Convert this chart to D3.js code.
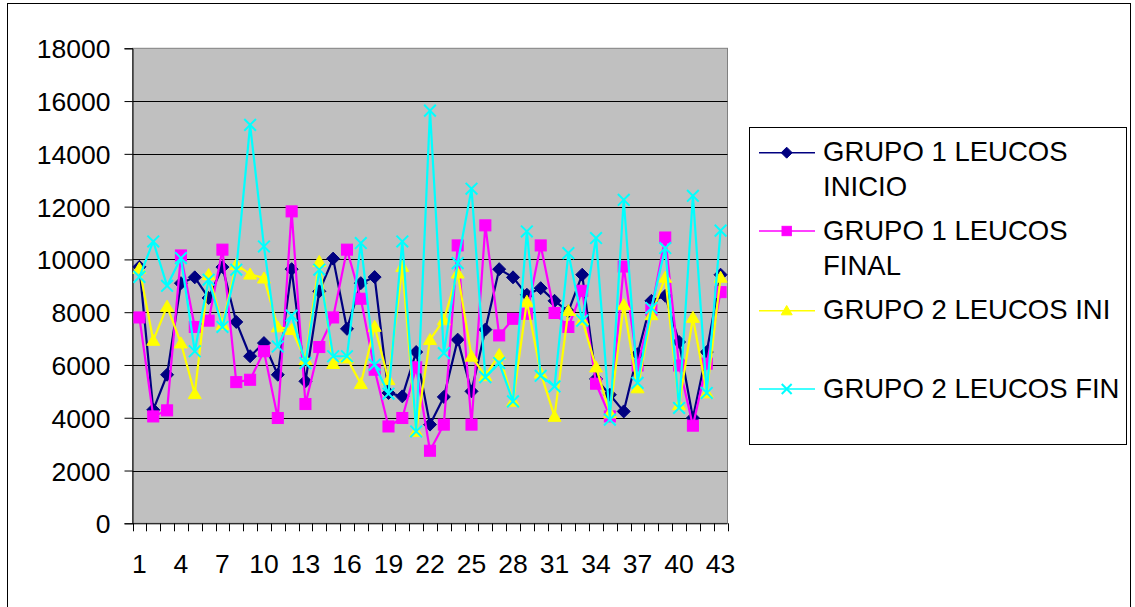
<!DOCTYPE html>
<html>
<head>
<meta charset="utf-8">
<script src="https://cdn.jsdelivr.net/npm/d3@7"></script>
<style>
  html, body { margin: 0; padding: 0; background: #fff; }
  svg { display: block; font-family: "Liberation Sans", Arial, sans-serif; }
</style>
</head>
<body>
<svg id="chart" width="1135" height="607"></svg>
<script>
// Leukocyte counts per patient, groups 1 and 2, start and end
const patients = d3.range(1, 44);
const g1Inicio = [9720, 4300, 5630, 9100, 9320, 8540, 9710, 7630, 6330, 6830, 5630, 9630, 5380, 8790, 10030,
  7370, 9100, 9330, 4940, 4810, 6490, 3740, 4790, 6960, 5000, 7340, 9630, 9320, 8660, 8910,
  8430, 8030, 9420, 5470, 4870, 4240, 6410, 8430, 8620, 6870, 3990, 6490, 9420];
const g1Final = [7800, 4050, 4280, 10150, 7440, 7680, 10370, 5350, 5440, 6520, 3990, 11820, 4520, 6680, 7800,
  10370, 8510, 5820, 3670, 3990, 5910, 2750, 3740, 10530, 3740, 11290, 7120, 7750, 7940, 10530,
  7970, 7440, 8810, 5290, 4050, 9730, 5980, 8090, 10830, 5980, 3700, 6050, 8760];
const g2Ini = [9660, 6930, 8220, 6830, 4910, 9420, 7530, 9800, 9440, 9290, 7440, 7340, 6200, 9920, 6050,
  6260, 5290, 7460, 5440, 9730, 3480, 6960, 7710, 9480, 6330, 5590, 6390, 4620, 8410, 5690,
  4050, 8060, 7710, 5920, 4180, 8280, 5130, 7900, 9320, 4490, 7800, 4940, 9320];
const g2Fin = [9340, 10680, 9000, 10050, 6520, 9230, 7440, 9610, 15100, 10490, 6700, 7870, 6070, 9610, 6330,
  6330, 10620, 6010, 4910, 10680, 3480, 15640, 6450, 9860, 12680, 5540, 6070, 4620, 11060, 5590,
  5190, 10240, 7680, 10810, 3930, 12260, 5320, 8160, 10430, 4370, 12410, 4940, 11090];
const yTicks = [0, 2000, 4000, 6000, 8000, 10000, 12000, 14000, 16000, 18000];
const xTickLabels = patients.filter(d => (d - 1) % 3 === 0);

const series = [
  { name: ["GRUPO 1 LEUCOS", "INICIO"], values: g1Inicio, color: "#000080", marker: "diamond" },
  { name: ["GRUPO 1 LEUCOS", "FINAL"], values: g1Final, color: "#FF00FF", marker: "square" },
  { name: ["GRUPO 2 LEUCOS INI"], values: g2Ini, color: "#FFFF00", marker: "triangle" },
  { name: ["GRUPO 2 LEUCOS FIN"], values: g2Fin, color: "#00FFFF", marker: "cross" }
];

const svg = d3.select("#chart");
const plot = { left: 132.5, right: 727.5, top: 48.3, bottom: 523.3 };

// Outer chart frame
svg.append("rect").attr("x", 7.5).attr("y", 3.5).attr("width", 1123).attr("height", 610)
  .attr("fill", "#fff").attr("stroke", "#000").attr("stroke-width", 1);

const x = d3.scaleBand().domain(patients).range([plot.left, plot.right]);
const y = d3.scaleLinear().domain([0, 18000]).range([plot.bottom, plot.top]);
const cx = d => x(d) + x.bandwidth() / 2;

// Plot area
svg.append("rect").attr("x", plot.left).attr("y", plot.top)
  .attr("width", plot.right - plot.left).attr("height", plot.bottom - plot.top)
  .attr("fill", "#C0C0C0").attr("stroke", "#808080").attr("stroke-width", 1);

// Horizontal gridlines
svg.append("g").selectAll("line").data(yTicks.filter(v => v > 0 && v < 18000)).join("line")
  .attr("x1", plot.left).attr("x2", plot.right)
  .attr("y1", d => Math.round(y(d)) + 0.5).attr("y2", d => Math.round(y(d)) + 0.5)
  .attr("stroke", "#000").attr("stroke-width", 1);

// Y axis
const yAxis = svg.append("g").attr("transform", `translate(${plot.left},0)`)
  .call(d3.axisLeft(y).tickValues(yTicks).tickSize(8).tickPadding(14).tickFormat(d3.format("d")));
yAxis.select(".domain").attr("stroke", "#000");
yAxis.selectAll(".tick line").attr("stroke", "#000");
yAxis.selectAll(".tick text").attr("font-size", 26.5).attr("fill", "#000")
  .attr("font-family", "'Liberation Sans', Arial, sans-serif").attr("dy", "0.36em");

// X axis: ticks between categories, labels every third patient
const xAxisG = svg.append("g").attr("transform", `translate(0,${plot.bottom})`);
xAxisG.append("line").attr("x1", plot.left).attr("x2", plot.right).attr("y1", 0.5).attr("y2", 0.5)
  .attr("stroke", "#000");
xAxisG.selectAll("line.tk").data(d3.range(0, patients.length + 1)).join("line").attr("class", "tk")
  .attr("x1", i => Math.round(plot.left + i * x.step()) + 0.5)
  .attr("x2", i => Math.round(plot.left + i * x.step()) + 0.5)
  .attr("y1", 0).attr("y2", 8).attr("stroke", "#000");
xAxisG.selectAll("text").data(xTickLabels).join("text")
  .attr("x", d => cx(d)).attr("y", 50).attr("text-anchor", "middle")
  .attr("font-size", 26.5).attr("fill", "#000").text(d => d);

// Marker shapes
function drawMarker(g, type, color, size) {
  const h = size / 2;
  if (type === "diamond") {
    g.append("path").attr("d", `M0,${-h}L${h},0L0,${h}L${-h},0Z`).attr("fill", color).attr("stroke", color);
  } else if (type === "square") {
    const s = h * 0.85;
    g.append("rect").attr("x", -s).attr("y", -s).attr("width", 2 * s).attr("height", 2 * s)
      .attr("fill", color).attr("stroke", color);
  } else if (type === "triangle") {
    g.append("path").attr("d", `M0,${-h * 0.95}L${h},${h * 0.75}L${-h},${h * 0.75}Z`).attr("fill", color).attr("stroke", color);
  } else {
    const c = h * 0.9;
    g.append("path").attr("d", `M${-c},${-c}L${c},${c}M${-c},${c}L${c},${-c}`)
      .attr("stroke", color).attr("stroke-width", 2).attr("fill", "none");
  }
}

const line = d3.line().x((d, i) => cx(patients[i])).y(d => y(d));

series.forEach(s => {
  const g = svg.append("g");
  g.append("path").datum(s.values).attr("d", line)
    .attr("fill", "none").attr("stroke", s.color).attr("stroke-width", 2.2).attr("stroke-linejoin", "round");
  g.selectAll("g.m").data(s.values).join("g").attr("class", "m")
    .attr("transform", (d, i) => `translate(${cx(patients[i])},${y(d)})`)
    .each(function () { drawMarker(d3.select(this), s.marker, s.color, 13); });
});

// Legend
const legend = svg.append("g");
legend.append("rect").attr("x", 749.5).attr("y", 127.5).attr("width", 377).attr("height", 317)
  .attr("fill", "#fff").attr("stroke", "#000").attr("stroke-width", 1);
const legendRows = [152.7, 231, 310.7, 389];
series.forEach((s, i) => {
  const ly = legendRows[i];
  const g = legend.append("g");
  g.append("line").attr("x1", 759).attr("x2", 815).attr("y1", ly).attr("y2", ly)
    .attr("stroke", s.color).attr("stroke-width", 1.5);
  const mg = g.append("g").attr("transform", `translate(786.7,${ly})`);
  drawMarker(mg, s.marker, s.color, 11);
  const t = g.append("text").attr("x", 823).attr("y", ly + 8.5).attr("font-size", 27.5).attr("fill", "#000");
  s.name.forEach((ln, j) => {
    t.append("tspan").attr("x", 823).attr("dy", j === 0 ? 0 : 35).text(ln);
  });
});
</script>
</body>
</html>
